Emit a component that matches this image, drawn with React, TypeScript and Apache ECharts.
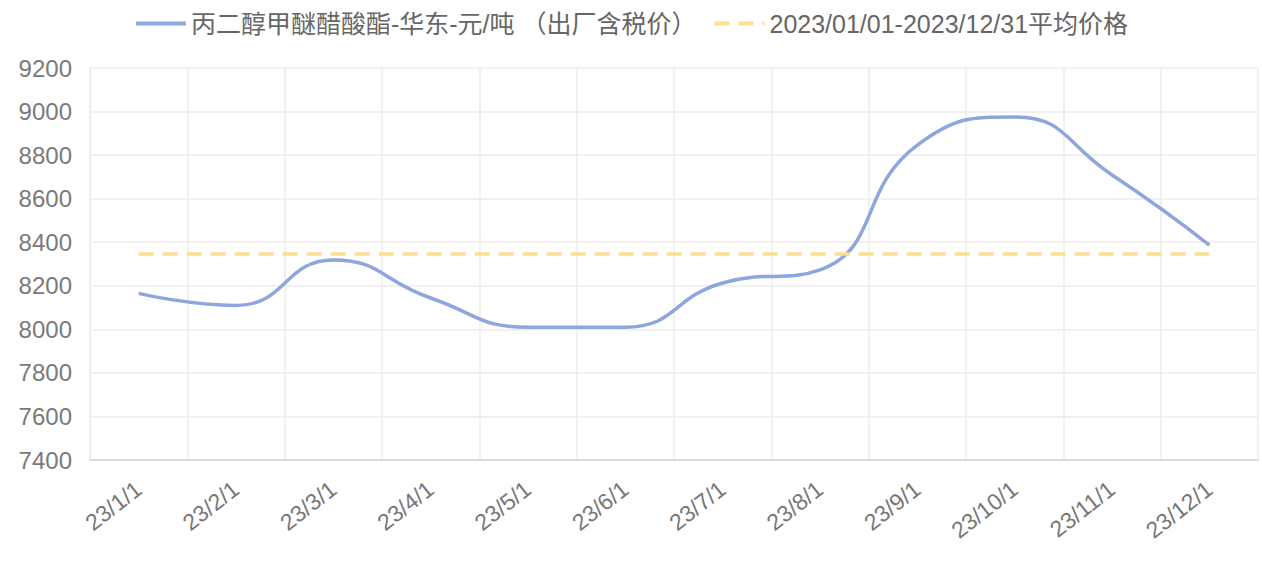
import React, { useEffect, useRef } from "react";
import * as echarts from "echarts";

const categories = ["23/1/1", "23/2/1", "23/3/1", "23/4/1", "23/5/1", "23/6/1", "23/7/1", "23/8/1", "23/9/1", "23/10/1", "23/11/1", "23/12/1"];
const priceValues = [8165, 8110, 8318, 8144, 8010, 8010, 8213, 8273, 8846, 8975, 8709, 8387];
const averagePrice = 8346;
const averageValues = categories.map(() => averagePrice);
const seriesNames = ["丙二醇甲醚醋酸酯-华东-元/吨 （出厂含税价）", "2023/01/01-2023/12/31平均价格"];

export default function App() {
  const ref = useRef<HTMLDivElement>(null);
  useEffect(() => {
    if (!ref.current) return;
    const chart = echarts.init(ref.current, null, { renderer: "svg" });
    const font = "'Liberation Sans', 'Noto Sans CJK SC', sans-serif";
    chart.setOption({
      animation: false,
      backgroundColor: "#ffffff",
      legend: {
        top: 6,
        left: "center",
        itemWidth: 50,
        itemHeight: 14,
        itemGap: 16,
        itemStyle: { opacity: 0 },
        lineStyle: { width: 4 },
        textStyle: { fontSize: 25, color: "#666", fontFamily: font },
        data: [seriesNames[0], seriesNames[1]],
      },
      grid: { left: 90, right: 4, top: 68, bottom: 118 },
      xAxis: {
        type: "category",
        data: categories,
        boundaryGap: true,
        axisLine: { show: true, lineStyle: { color: "#dcdcdc", width: 2 } },
        axisTick: { show: false },
        splitLine: { show: true, lineStyle: { color: "#ececec", width: 1.5 } },
        axisLabel: {
          rotate: 38,
          fontSize: 23,
          color: "#777",
          fontFamily: font,
          margin: 26,
          interval: 0,
        },
      },
      yAxis: {
        type: "value",
        min: 7400,
        max: 9200,
        interval: 200,
        axisLine: { show: true, lineStyle: { color: "#ececec", width: 1.5 } },
        axisTick: { show: false },
        splitLine: { show: true, lineStyle: { color: "#ececec", width: 1.5 } },
        axisLabel: {
          fontSize: 24,
          color: "#7a7a7a",
          fontFamily: font,
          margin: 18,
          formatter: (v: number) => String(v),
        },
      },
      series: [
        {
          name: seriesNames[0],
          type: "line",
          data: priceValues,
          smooth: 0.5,
          symbol: "none",
          lineStyle: { color: "#8ea6dd", width: 3.5 },
          itemStyle: { color: "#8ea6dd" },
        },
        {
          name: seriesNames[1],
          type: "line",
          data: averageValues,
          symbol: "none",
          lineStyle: { color: "#fbe08f", width: 3.5, type: [15, 9] },
          itemStyle: { color: "#fbe08f" },
        },
      ],
    });
    return () => chart.dispose();
  }, []);
  return <div ref={ref} style={{ position: "fixed", left: 0, top: 0, width: 1262, height: 578 }} />;
}
